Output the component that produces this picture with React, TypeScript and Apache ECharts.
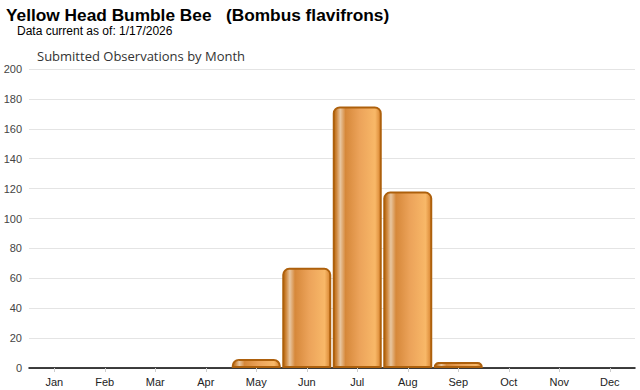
import React, { useEffect, useRef } from "react";
import * as echarts from "echarts";

const months = ["Jan", "Feb", "Mar", "Apr", "May", "Jun", "Jul", "Aug", "Sep", "Oct", "Nov", "Dec"];
const observations = [0, 0, 0, 0, 6, 67, 175, 118, 4, 0, 0, 0];
const yTicks = { min: 0, max: 200, interval: 20 };

const titleText = "Yellow Head Bumble Bee   (Bombus flavifrons)";
const subText = "Data current as of: 1/17/2026";
const chartTitle = "Submitted Observations by Month";

export default function App() {
  const ref = useRef<HTMLDivElement>(null);
  useEffect(() => {
    document.body.style.margin = "0";
    const chart = echarts.init(ref.current!, null, { renderer: "svg" });
    const barGradient = new echarts.graphic.LinearGradient(0, 0, 1, 0, [
      { offset: 0, color: "#b86810" },
      { offset: 0.06, color: "#cf873c" },
      { offset: 0.14, color: "#e8c6a0" },
      { offset: 0.25, color: "#d6883a" },
      { offset: 0.55, color: "#eca35a" },
      { offset: 0.88, color: "#f8b868" },
      { offset: 1, color: "#d88430" },
    ]);
    chart.setOption({
      animation: false,
      backgroundColor: "#ffffff",
      graphic: [
        {
          type: "text",
          left: 6,
          top: 6,
          style: { text: titleText, font: "bold 17.3px 'Liberation Sans', Arial, sans-serif", fill: "#000" },
        },
        {
          type: "text",
          left: 17,
          top: 25,
          style: { text: subText, font: "12px 'Liberation Sans', Arial, sans-serif", fill: "#000" },
        },
        {
          type: "text",
          left: 37,
          top: 49,
          style: { text: chartTitle, font: "13px 'Open Sans', 'Noto Sans', sans-serif", fill: "#333" },
        },
      ],
      grid: { left: 29, right: 5, top: 69, bottom: 22, containLabel: false },
      xAxis: {
        type: "category",
        data: months,
        axisLine: { lineStyle: { color: "#000", width: 1.5 } },
        axisTick: { show: true, alignWithLabel: true, length: 4, lineStyle: { color: "#ccc" } },
        axisLabel: { color: "#222", fontSize: 11, fontFamily: "'Liberation Sans', Arial, sans-serif", margin: 8 },
      },
      yAxis: {
        type: "value",
        min: yTicks.min,
        max: yTicks.max,
        interval: yTicks.interval,
        axisLine: { show: false },
        axisTick: { show: false },
        splitLine: { lineStyle: { color: "#e4e4e4", width: 1 } },
        axisLabel: { color: "#444", fontSize: 11, fontFamily: "'Liberation Sans', Arial, sans-serif", margin: 7 },
      },
      series: [
        {
          type: "bar",
          data: observations.map((v) => (v === 0 ? null : v)),
          barCategoryGap: "3%",
          itemStyle: {
            color: barGradient,
            borderColor: "#ad600c",
            borderWidth: 2,
            borderRadius: [6, 6, 0, 0],
          },
        },
      ],
    });
    return () => chart.dispose();
  }, []);
  return <div ref={ref} style={{ width: 640, height: 390 }} />;
}
